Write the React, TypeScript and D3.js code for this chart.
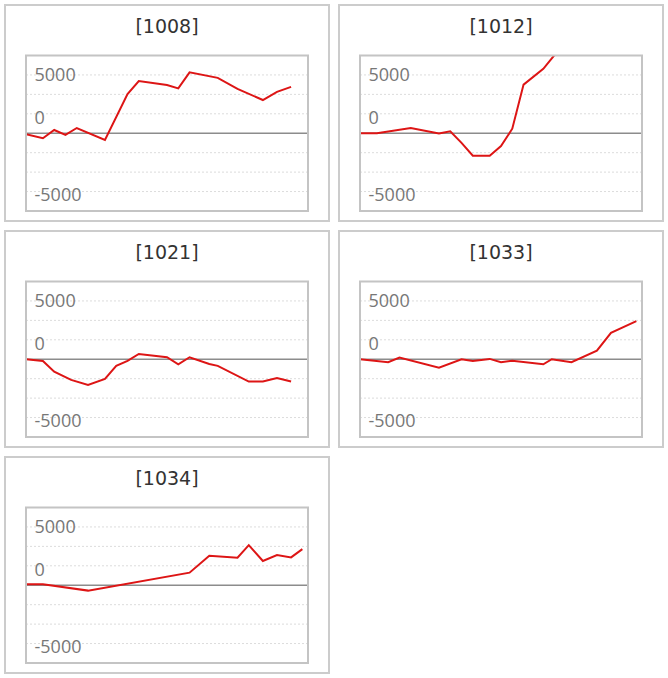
import React from "react";
import * as d3 from "d3";

// one entry per small chart
const titles = ["[1008]", "[1012]", "[1021]", "[1033]", "[1034]"];

// x positions are days on a shared 0..100 axis
const days1008 = [0, 6, 10, 14, 18, 28, 36, 40, 50, 54, 58, 68, 75, 84, 89, 94];
const vals1008 = [-85, -430, 280, -145, 450, -570, 3360, 4470, 4130, 3850, 5220, 4750, 3800, 2850, 3550, 3980];

const days1012 = [0, 6, 18, 28, 32, 36, 40, 46, 50, 54, 58, 65, 75, 84];
const vals1012 = [0, 0, 450, -30, 170, -830, -1920, -1920, -1100, 390, 4170, 5520, 8500, 9400];

const days1021 = [0, 6, 10, 16, 22, 28, 32, 36, 40, 50, 54, 58, 65, 68, 79, 84, 89, 94];
const vals1021 = [0, -145, -1060, -1770, -2200, -1680, -570, -145, 450, 170, -430, 170, -400, -570, -1910, -1910, -1620, -1910];

const days1033 = [0, 10, 14, 28, 36, 40, 46, 50, 54, 65, 68, 75, 84, 89, 98];
const vals1033 = [0, -260, 140, -720, 0, -145, 30, -260, -120, -430, 0, -260, 740, 2270, 3270];

const days1034 = [0, 6, 22, 58, 65, 75, 79, 84, 89, 94, 98];
const vals1034 = [85, 85, -460, 1080, 2530, 2360, 3440, 2080, 2590, 2390, 3100];

const seriesDays = [days1008, days1012, days1021, days1033, days1034];
const seriesVals = [vals1008, vals1012, vals1021, vals1033, vals1034];

const xDomain = [0, 100];
const yDomain = [-6667, 6667];
const gridValues = [5000, 3333, 1667, -1667, -3333, -5000];
const tickValues = [5000, 1667, -5000];
const tickLabels = ["5000", "0", "-5000"];

const W = 668;
const H = 678;
const panelW = 326;
const panelH = 218;
const colStep = 334;
const rowStep = 226;
const plot = { left: 22, right: 304, top: 51.5, bottom: 207 };

const x = d3.scaleLinear().domain(xDomain).range([plot.left, plot.right]);
const y = d3.scaleLinear().domain(yDomain).range([plot.bottom, plot.top]);

const line = d3
  .line<[number, number]>()
  .x((d) => x(d[0]))
  .y((d) => y(d[1]));

const labelDy = [6, 10, 9];

const Panel = ({ i }: { i: number }) => {
  const px = 4 + (i % 2) * colStep;
  const py = 4 + Math.floor(i / 2) * rowStep;
  const pts: [number, number][] = seriesDays[i].map((d, k) => [d, seriesVals[i][k]]);
  const clipId = `clip-${i}`;
  return (
    <g transform={`translate(${px},${py})`}>
      <rect x={1} y={1} width={panelW - 2} height={panelH - 2} fill="#fff" stroke="#cccccc" strokeWidth={2} />
      <text
        x={panelW / 2}
        y={28.5}
        textAnchor="middle"
        fontFamily="'DejaVu Sans', Verdana, sans-serif"
        fontSize={19}
        fill="#333"
      >
        {titles[i]}
      </text>
      <clipPath id={clipId}>
        <rect x={plot.left} y={plot.top} width={plot.right - plot.left} height={plot.bottom - plot.top} />
      </clipPath>
      {gridValues.map((v) => (
        <line
          key={v}
          x1={plot.left}
          x2={plot.right}
          y1={y(v)}
          y2={y(v)}
          stroke="#dcdcdc"
          strokeWidth={1}
          strokeDasharray="2,2"
        />
      ))}
      {tickValues.map((v, k) => (
        <text
          key={v}
          x={plot.left + 8.5}
          y={y(v) + labelDy[k]}
          fontFamily="'Open Sans', sans-serif"
          fontSize={18}
          fill="#777"
        >
          {tickLabels[k]}
        </text>
      ))}
      <line x1={plot.left} x2={plot.right + 1} y1={y(0)} y2={y(0)} stroke="#8c8c8c" strokeWidth={1.6} />
      <path d={line(pts) || ""} fill="none" stroke="#dd1515" strokeWidth={2} clipPath={`url(#${clipId})`} />
      <rect
        x={plot.left}
        y={plot.top}
        width={plot.right - plot.left}
        height={plot.bottom - plot.top}
        fill="none"
        stroke="#c4c4c4"
        strokeWidth={2}
      />
    </g>
  );
};

export default function App() {
  return (
    <svg width={W} height={H} style={{ position: "absolute", left: 0, top: 0, background: "#fff" }}>
      {titles.map((t, i) => (
        <Panel key={t} i={i} />
      ))}
    </svg>
  );
}
